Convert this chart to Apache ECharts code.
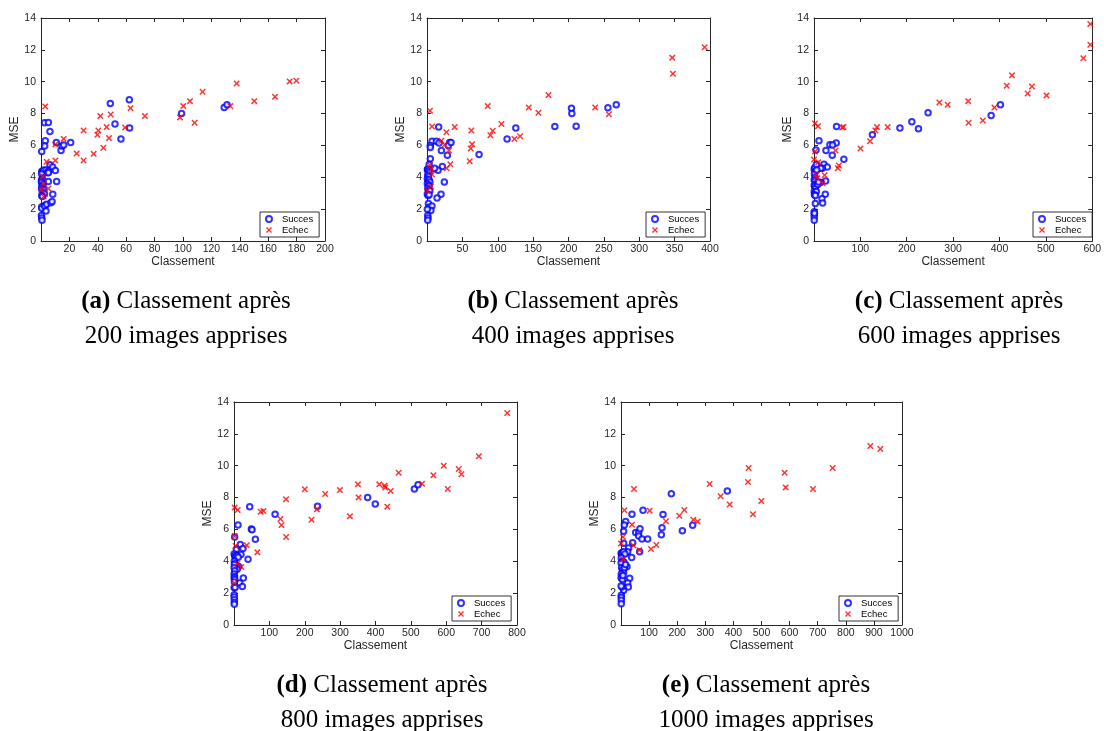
<!DOCTYPE html>
<html>
<head>
<meta charset="utf-8">
<script src="https://cdn.jsdelivr.net/npm/echarts@6/dist/echarts.min.js"></script>
<style>
html, body { margin: 0; padding: 0; background: #fff; }
#chart { width: 1104px; height: 731px; }
</style>
</head>
<body>
<div id="chart"></div>
<script>
// panel settings
const panelLetters = ['a', 'b', 'c', 'd', 'e'];
const imageCounts = [200, 400, 600, 800, 1000];
const xMax = [200, 400, 600, 800, 1000];
const xStep = [20, 50, 100, 100, 100];
const yMax = 14;
const yStep = 2;

// (a) 200 images
const succesA = [
  [0.5, 5.62], [2.5, 7.42], [5.2, 7.44], [6.3, 6.87], [3, 6.29], [2.6, 5.97], [10.8, 6.18], [20.9, 6.18],
  [14.1, 5.68], [14.8, 5.97], [16, 6.02], [48.8, 8.63], [62.2, 8.87], [52.1, 7.34], [62.4, 7.1], [56.3, 6.41],
  [99, 8.0], [129, 8.38], [131, 8.55],
  [0.5, 4.35], [1, 4.4], [2, 4.45], [3.5, 4.45], [4.5, 4.3], [5.5, 4.4], [0.5, 4.2], [1, 3.95], [0.5, 3.85],
  [0.3, 3.75], [0.5, 3.65], [1.5, 3.55], [0.5, 3.4], [1, 3.3], [0.5, 3.25], [2, 3.2], [1.5, 3.05], [2.5, 2.95],
  [0.5, 2.85], [1, 2.8], [0.6, 2.15], [0.5, 2.05], [0.3, 1.6], [0.5, 1.45], [0.7, 1.3], [3, 2.25], [2.5, 2.2],
  [4, 2.3], [3.5, 1.88], [7, 2.4], [7.8, 2.48], [8.3, 2.93], [5.2, 3.73], [11, 3.73], [5.2, 4.28], [6.3, 4.78],
  [8.2, 4.65], [10.1, 4.42]
];
const echecA = [
  [3, 8.45], [4, 4.97], [5.2, 3.29], [1.2, 4.05], [1.9, 3.56], [1.9, 2.79], [0.3, 3.2], [10.1, 5.05], [10.1, 6.06],
  [16, 6.41], [25.1, 5.49], [30, 6.94], [30, 5.05], [37.1, 5.47], [39.7, 6.67], [40.4, 6.94], [41.8, 7.84],
  [43.9, 5.85], [46.2, 7.15], [47.9, 6.46], [49.1, 7.94], [59.2, 7.13], [63.1, 8.34], [73.2, 7.84], [97.9, 7.76],
  [100.2, 8.47], [104.9, 8.78], [108.2, 7.42], [113.8, 9.37], [133.3, 8.47], [137.8, 9.89], [150.2, 8.78],
  [164.8, 9.05], [175.1, 10.02], [179.8, 10.06]
];

// (b) 400 images
const succesB = [
  [16.5, 7.15], [7.1, 6.27], [13.2, 6.27], [17, 6.16], [20.3, 5.68], [32, 6.18], [30, 6.0], [34, 6.18], [28.8, 5.39],
  [21.7, 4.67], [15.6, 4.44], [10.8, 4.57], [24.5, 3.71], [19.8, 2.93], [14.2, 2.7], [73.6, 5.43], [113.2, 6.41],
  [125.5, 7.1], [180.7, 7.19], [204.2, 8.34], [204.7, 8.0], [210.8, 7.21], [255.7, 8.36], [267.5, 8.55],
  [4.7, 5.99], [4.7, 5.87], [4.7, 5.16], [3, 4.8],
  [0.5, 4.5], [1, 4.45], [2, 4.4], [3, 4.3], [1, 4.15], [2, 4.05], [0.5, 3.9], [1.5, 3.8], [3, 3.85], [4, 3.7],
  [0.5, 3.6], [2, 3.5], [3, 3.45], [1, 3.3], [2.5, 3.2], [4, 3.15], [0.5, 2.95], [1.5, 2.85], [3, 2.9], [2, 2.35],
  [3, 2.12], [7, 2.2], [5.5, 1.92], [0.5, 2.0], [1, 1.6], [1.5, 1.45], [1, 1.3]
];
const echecB = [
  [4.2, 8.17], [7.1, 7.19], [6.1, 4.49], [7.1, 4.17], [5.7, 3.42], [0.5, 3.16], [3.8, 4.78], [20.3, 6.29],
  [27.4, 6.83], [25, 6.04], [31.1, 5.68], [27.8, 4.57], [33, 4.82], [39.2, 7.15], [60.4, 5.01], [61.8, 5.81],
  [62.7, 6.94], [63.7, 6.08], [85.8, 8.47], [89.6, 6.64], [92.9, 6.92], [105.2, 7.34], [123.6, 6.41], [131.6, 6.58],
  [143.9, 8.38], [157.5, 8.05], [171.7, 9.16], [237.7, 8.38], [257.1, 7.96], [346.7, 11.51], [347.6, 10.5],
  [392.5, 12.16]
];

// (c) 600 images
const succesC = [
  [48.6, 7.19], [10.7, 6.29], [47.9, 6.16], [34.3, 6.04], [40.1, 6.02], [25.8, 5.68], [39.3, 5.39], [4.3, 5.72],
  [64.4, 5.14], [21.5, 4.82], [28.6, 4.65], [17.9, 4.57], [14.3, 4.57], [25, 3.77], [14.3, 3.67], [24.3, 2.93],
  [17.2, 2.66], [18.6, 2.39], [125.9, 6.67], [185.3, 7.1], [211, 7.48], [225.3, 7.04], [246, 8.05], [382, 7.88],
  [402, 8.55],
  [0.5, 4.5], [1.5, 4.6], [3, 4.4], [5, 4.8], [1, 4.2], [2, 4.0], [0.5, 3.85], [2, 3.75], [4, 3.6], [0.5, 3.5],
  [1.5, 3.4], [3, 3.3], [0.5, 3.1], [2, 3.0], [5, 3.1], [1, 2.9], [3, 2.85], [8, 3.55], [10, 3.7], [6, 4.45],
  [2.9, 2.35], [0.5, 1.84], [0.5, 1.68], [0.5, 1.51], [0.5, 1.3], [1, 1.75]
];
const echecC = [
  [2.1, 7.38], [8.6, 7.21], [2.1, 5.62], [0, 5.11], [9.3, 4.95], [5, 4.17], [7.2, 3.94], [18.6, 3.63], [22.9, 4.13],
  [46.5, 5.68], [51.5, 4.57], [53.6, 4.74], [60.8, 7.13], [63.7, 7.15], [100.1, 5.81], [120.9, 6.27], [132.3, 6.94],
  [135.9, 7.15], [158.8, 7.15], [270.4, 8.7], [288.3, 8.55], [332.6, 8.78], [333.3, 7.42], [364.1, 7.57],
  [389.1, 8.38], [415.6, 9.75], [427, 10.4], [460.7, 9.26], [470, 9.7], [501.4, 9.14], [580.8, 11.47],
  [595.9, 12.32], [595.9, 13.62]
];

// (d) 800 images
const succesD = [
  [44.4, 7.43], [11.3, 6.28], [49.1, 6.03], [51, 5.98], [60.4, 5.38], [1.9, 5.52], [17.9, 5.06], [25.5, 4.81],
  [6.6, 4.75], [19.8, 4.42], [39.7, 4.12], [13.2, 3.68], [26.4, 2.95], [16, 2.64], [23.6, 2.41], [116.1, 6.95],
  [236.1, 7.45], [377.7, 8.01], [399.4, 7.6], [509.9, 8.54], [520.3, 8.81],
  [0.5, 4.45], [2, 4.35], [4, 4.2], [6, 4.3], [9, 4.35], [12, 4.25], [1, 4.0], [3, 3.85], [5, 3.75], [7, 3.6],
  [9, 3.5], [1, 3.8], [0.5, 3.6], [2, 3.4], [0.5, 3.2], [1.5, 3.05], [0.5, 2.95], [2, 2.85], [1, 2.7], [0.5, 2.35],
  [3, 2.35], [0.5, 1.9], [0.5, 1.76], [1, 1.59], [1, 1.42], [1, 1.3]
];
const echecD = [
  [1.9, 7.37], [10.4, 7.22], [1.9, 5.59], [4.7, 4.96], [35.9, 5.0], [66.1, 4.56], [20.8, 3.64], [9.4, 3.85],
  [0.9, 2.64], [75.5, 7.11], [83.1, 7.16], [131.3, 6.65], [134.1, 6.28], [147.3, 7.89], [147.3, 5.52], [200.2, 8.52],
  [219.1, 6.61], [234.2, 7.26], [257.8, 8.22], [299.3, 8.47], [327.7, 6.82], [350.3, 8.83], [352.2, 8.01],
  [410.8, 8.83], [425.9, 8.75], [427.8, 8.64], [433.4, 7.43], [442.9, 8.41], [465.5, 9.56], [531.6, 8.87],
  [563.7, 9.4], [593, 10.0], [604.3, 8.54], [635.5, 9.79], [643, 9.46], [692.2, 10.59], [772.4, 13.31]
];

// (e) 1000 images
const succesE = [
  [78.3, 7.2], [39.1, 6.95], [16.6, 6.49], [11.9, 6.28], [9.5, 5.88], [9.5, 5.13], [41.5, 5.17], [52.2, 5.8],
  [62.9, 5.8], [67.6, 6.05], [62.9, 5.59], [74.7, 5.4], [94.9, 5.4], [66.4, 4.6], [27.3, 4.83], [17.8, 4.54],
  [23.7, 4.6], [38, 4.23], [21.4, 3.66], [30.8, 2.93], [23.7, 2.64], [26.1, 2.39], [9.5, 2.18], [3.6, 2.39],
  [149.5, 6.93], [145.9, 6.11], [143.5, 5.67], [179.1, 8.24], [218.3, 5.92], [255, 6.26], [378.4, 8.41],
  [0.5, 4.5], [2, 4.45], [5, 4.55], [9, 4.6], [14, 4.45], [1, 4.2], [4, 4.0], [7, 3.9], [10, 3.95], [13, 3.75],
  [0.5, 3.9], [2, 3.6], [6, 3.45], [9, 3.3], [1, 3.2], [3, 3.05], [0.5, 2.95], [5, 2.85], [7, 3.1], [12, 3.6],
  [16, 3.8], [0.5, 2.45], [1, 1.86], [1, 1.72], [1, 1.55], [1, 1.34]
];
const echecE = [
  [0, 5.11], [7.1, 5.52], [11.9, 7.2], [46.3, 8.54], [39.1, 6.3], [43.5, 5.0], [7.1, 4.12], [65.2, 4.7], [102, 7.18],
  [106.8, 4.77], [125.7, 5.02], [160.1, 6.51], [207.6, 6.86], [225.4, 7.22], [257.4, 6.61], [272.8, 6.49],
  [315.5, 8.85], [354.7, 8.08], [386.7, 7.57], [452, 8.98], [454.3, 9.86], [469.7, 6.95], [499.4, 7.78],
  [582.4, 9.56], [586, 8.64], [683.3, 8.54], [753.3, 9.86], [887.3, 11.24], [922.9, 11.05]
];

const succesData = [succesA, succesB, succesC, succesD, succesE];
const echecData = [echecA, echecB, echecC, echecD, echecE];

// layout of each panel (pixels)
const grids = [
  { left: 41, top: 18, width: 284, height: 223 },
  { left: 427, top: 18, width: 283, height: 223 },
  { left: 814, top: 18, width: 280, height: 223 },
  { left: 234, top: 402, width: 283, height: 223 },
  { left: 621, top: 402, width: 281, height: 223 }
];
const legendPos = [[260, 212], [646, 212], [1033, 212], [452, 596], [839, 596]];
const captionPos = [[181, 279], [568, 279], [954, 279], [377, 663], [761, 663]];

const axisColor = '#262626';
const crossPath = 'path://M0,1.6L1.6,0L5,3.4L8.4,0L10,1.6L6.6,5L10,8.4L8.4,10L5,6.6L1.6,10L0,8.4L3.4,5Z';

const xAxes = [], yAxes = [], series = [], legends = [], titles = [];

grids.forEach((g, i) => {
  const lineStyle = { color: axisColor, width: 1 };
  xAxes.push({
    gridIndex: i, type: 'value', position: 'bottom', min: 0, max: xMax[i], interval: xStep[i],
    name: 'Classement', nameLocation: 'middle', nameGap: 14,
    nameTextStyle: { fontFamily: 'Liberation Sans', fontSize: 12, color: axisColor },
    axisLine: { onZero: false, lineStyle },
    axisTick: { inside: true, length: 4, lineStyle },
    axisLabel: {
      showMinLabel: false, margin: 3, fontFamily: 'Liberation Sans', fontSize: 10.5, color: axisColor,
      formatter: v => String(v)
    },
    splitLine: { show: false }
  });
  xAxes.push({
    gridIndex: i, type: 'value', position: 'top', min: 0, max: xMax[i], interval: xStep[i],
    axisLine: { onZero: false, lineStyle },
    axisTick: { inside: true, length: 4, lineStyle },
    axisLabel: { show: false },
    splitLine: { show: false }
  });
  yAxes.push({
    gridIndex: i, type: 'value', position: 'left', min: 0, max: yMax, interval: yStep,
    name: 'MSE', nameLocation: 'middle', nameGap: 19,
    nameTextStyle: { fontFamily: 'Liberation Sans', fontSize: 12, color: axisColor },
    axisLine: { onZero: false, lineStyle },
    axisTick: { inside: true, length: 4, lineStyle },
    axisLabel: { margin: 5, fontFamily: 'Liberation Sans', fontSize: 10.5, color: axisColor },
    splitLine: { show: false }
  });
  yAxes.push({
    gridIndex: i, type: 'value', position: 'right', min: 0, max: yMax, interval: yStep,
    axisLine: { onZero: false, lineStyle },
    axisTick: { inside: true, length: 4, lineStyle },
    axisLabel: { show: false },
    splitLine: { show: false }
  });

  series.push({
    name: 'Succes', type: 'scatter', xAxisIndex: 2 * i, yAxisIndex: 2 * i,
    symbol: 'emptyCircle', symbolSize: 5.5, symbolKeepAspect: true,
    itemStyle: { color: '#0000ff', borderWidth: 1 },
    data: succesData[i]
  });
  series.push({
    name: 'Echec', type: 'scatter', xAxisIndex: 2 * i, yAxisIndex: 2 * i,
    symbol: crossPath, symbolSize: 6.5, symbolKeepAspect: true,
    itemStyle: { color: '#ff0000' },
    data: echecData[i]
  });

  legends.push({
    data: ['Succes', 'Echec'], orient: 'vertical',
    left: legendPos[i][0], top: legendPos[i][1],
    padding: [2, 6, 2, 5], itemGap: 1, itemWidth: 16, itemHeight: 6,
    backgroundColor: '#fff', borderColor: '#000', borderWidth: 0.8, borderRadius: 0,
    selectedMode: false,
    textStyle: { fontFamily: 'Liberation Sans', fontSize: 9.5, color: '#000' }
  });

  titles.push({
    text: '{b|(' + panelLetters[i] + ')} Classement après\n' + imageCounts[i] + ' images apprises',
    left: captionPos[i][0], top: captionPos[i][1], textAlign: 'center',
    textStyle: {
      fontFamily: 'Liberation Serif', fontSize: 25, fontWeight: 'normal', color: '#000', lineHeight: 35,
      rich: { b: { fontFamily: 'Liberation Serif', fontSize: 25, fontWeight: 'bold', color: '#000', lineHeight: 35 } }
    }
  });
});

const myChart = echarts.init(document.getElementById('chart'));
const option = {
  backgroundColor: '#fff',
  animation: false,
  title: titles,
  legend: legends,
  grid: grids.map(g => Object.assign({ containLabel: false }, g)),
  xAxis: xAxes,
  yAxis: yAxes,
  series: series
};
option && myChart.setOption(option);
</script>
</body>
</html>
